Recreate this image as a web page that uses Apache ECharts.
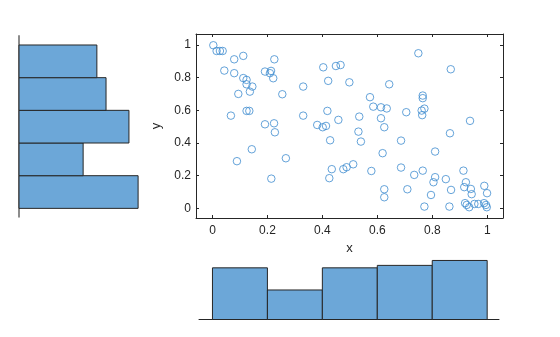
<!DOCTYPE html>
<html>
<head>
<meta charset="utf-8">
<script src="https://cdn.jsdelivr.net/npm/echarts@6/dist/echarts.min.js"></script>
<style>
  html, body { margin: 0; padding: 0; background: #fff; }
  #chart { width: 560px; height: 337px; }
</style>
</head>
<body>
<div id="chart"></div>
<script>
// Sample points (x, y)
const xs = [
  0.003, 0.015, 0.027, 0.037, 0.079, 0.112, 0.225, 0.043, 0.079, 0.112,
  0.124, 0.124, 0.145, 0.136, 0.094, 0.191, 0.213, 0.209, 0.221, 0.254,
  0.330, 0.403, 0.421, 0.067, 0.124, 0.134, 0.330, 0.418, 0.191, 0.224,
  0.381, 0.401, 0.413, 0.227, 0.428, 0.143, 0.089, 0.267, 0.214, 0.434,
  0.425, 0.449, 0.466, 0.498, 0.749, 0.867, 0.643, 0.573, 0.585, 0.613,
  0.634, 0.765, 0.765, 0.761, 0.771, 0.763, 0.705, 0.534, 0.458, 0.613,
  0.937, 0.625, 0.531, 0.540, 0.686, 0.864, 0.619, 0.810, 0.476, 0.488,
  0.512, 0.578, 0.686, 0.734, 0.765, 0.810, 0.804, 0.849, 0.913, 0.922,
  0.916, 0.940, 0.943, 0.989, 0.999, 0.868, 0.709, 0.625, 0.625, 0.795,
  0.771, 0.862, 0.919, 0.925, 0.934, 0.953, 0.967, 0.988, 0.995, 0.998
];
const ys = [
  0.998, 0.963, 0.963, 0.963, 0.912, 0.933, 0.912, 0.843, 0.827, 0.797,
  0.786, 0.759, 0.745, 0.714, 0.700, 0.837, 0.841, 0.827, 0.796, 0.698,
  0.745, 0.863, 0.780, 0.567, 0.596, 0.596, 0.567, 0.596, 0.514, 0.520,
  0.510, 0.496, 0.504, 0.465, 0.416, 0.361, 0.288, 0.306, 0.181, 0.239,
  0.184, 0.871, 0.877, 0.771, 0.949, 0.851, 0.759, 0.680, 0.622, 0.618,
  0.611, 0.690, 0.674, 0.598, 0.610, 0.570, 0.588, 0.561, 0.541, 0.551,
  0.535, 0.496, 0.469, 0.408, 0.414, 0.459, 0.337, 0.347, 0.239, 0.251,
  0.269, 0.228, 0.249, 0.204, 0.230, 0.190, 0.159, 0.178, 0.230, 0.159,
  0.129, 0.118, 0.086, 0.137, 0.092, 0.112, 0.116, 0.116, 0.067, 0.081,
  0.010, 0.010, 0.031, 0.020, 0.006, 0.026, 0.026, 0.031, 0.020, 0.006
];

// Histogram bins shared by both marginal plots
const binEdges = [0, 0.2, 0.4, 0.6, 0.8, 1];
const xCounts = [21, 12, 21, 22, 24];
const yCounts = [26, 14, 24, 19, 17];

// Tick labels for the scatter axes
const tickValues = [0, 0.2, 0.4, 0.6, 0.8, 1];

const points = xs.map((x, i) => [x, ys[i]]);
const xBins = xCounts.map((c, i) => [binEdges[i], binEdges[i + 1], c]);
const yBins = yCounts.map((c, i) => [binEdges[i], binEdges[i + 1], c]);

const textColor = '#262626';
const fontFamily = '"Liberation Sans", Arial, Helvetica, sans-serif';
const barFill = '#6ca7d8';
const barEdge = '#262626';

function boxAxis(extra) {
  return Object.assign({
    type: 'value',
    axisLine: { show: true, onZero: false, lineStyle: { color: textColor, width: 1 } },
    axisTick: { show: true, inside: true, length: 3, customValues: tickValues,
                lineStyle: { color: textColor, width: 1 } },
    axisLabel: { show: false },
    splitLine: { show: false }
  }, extra);
}

const labelStyle = (margin) => ({
  show: true, margin: margin, color: textColor, fontSize: 12, fontFamily: fontFamily,
  customValues: tickValues, formatter: (v) => String(v)
});

const nameStyle = { color: textColor, fontSize: 13, fontFamily: fontFamily };

const chart = echarts.init(document.getElementById('chart'), null, { renderer: 'canvas' });

chart.setOption({
  backgroundColor: '#ffffff',
  animation: false,
  grid: [
    { left: 196, top: 34, width: 307, height: 184 },   // scatter
    { left: 199, top: 258, width: 300, height: 61.5 }, // x histogram
    { left: 19, top: 36, width: 119.1, height: 180.7 } // y histogram
  ],
  xAxis: [
    boxAxis({ gridIndex: 0, position: 'bottom', min: -0.06, max: 1.057,
      axisLabel: labelStyle(7),
      name: 'x', nameLocation: 'middle', nameGap: 22, nameTextStyle: nameStyle }),
    boxAxis({ gridIndex: 0, position: 'top', min: -0.06, max: 1.057 }),
    { type: 'value', gridIndex: 1, min: -0.049, max: 1.043,
      axisLine: { show: true, onZero: false, lineStyle: { color: textColor, width: 1 } },
      axisTick: { show: false }, axisLabel: { show: false }, splitLine: { show: false } },
    { type: 'value', gridIndex: 2, min: 0, max: 26, show: false }
  ],
  yAxis: [
    boxAxis({ gridIndex: 0, position: 'left', min: -0.06, max: 1.067,
      axisLabel: labelStyle(5),
      name: 'y', nameLocation: 'middle', nameGap: 25, nameRotate: 90,
      nameTextStyle: nameStyle }),
    boxAxis({ gridIndex: 0, position: 'right', min: -0.06, max: 1.067 }),
    { type: 'value', gridIndex: 1, min: 0, max: 25, show: false },
    { type: 'value', gridIndex: 2, min: -0.051, max: 1.055,
      axisLine: { show: true, onZero: false, lineStyle: { color: '#8c8c8c', width: 2 } },
      axisTick: { show: false }, axisLabel: { show: false }, splitLine: { show: false } }
  ],
  series: [
    {
      type: 'scatter', xAxisIndex: 0, yAxisIndex: 0,
      data: points, symbol: 'circle', symbolSize: 7.5,
      itemStyle: { color: 'rgba(0,0,0,0)', borderColor: '#3f8ccf', borderWidth: 1 },
      emphasis: { disabled: true }
    },
    {
      type: 'custom', xAxisIndex: 2, yAxisIndex: 2,
      data: xBins, encode: { x: [0, 1], y: 2 },
      renderItem: (params, api) => {
        const p0 = api.coord([api.value(0), 0]);
        const p1 = api.coord([api.value(1), api.value(2)]);
        return { type: 'rect',
          shape: { x: p0[0], y: p1[1], width: p1[0] - p0[0], height: p0[1] - p1[1] },
          style: { fill: barFill, stroke: barEdge, lineWidth: 1 } };
      }
    },
    {
      type: 'custom', xAxisIndex: 3, yAxisIndex: 3,
      data: yBins, encode: { y: [0, 1], x: 2 },
      renderItem: (params, api) => {
        const p0 = api.coord([0, api.value(0)]);
        const p1 = api.coord([api.value(2), api.value(1)]);
        return { type: 'rect',
          shape: { x: p0[0], y: p1[1], width: p1[0] - p0[0], height: p0[1] - p1[1] },
          style: { fill: barFill, stroke: barEdge, lineWidth: 1 } };
      }
    }
  ]
});
</script>
</body>
</html>
